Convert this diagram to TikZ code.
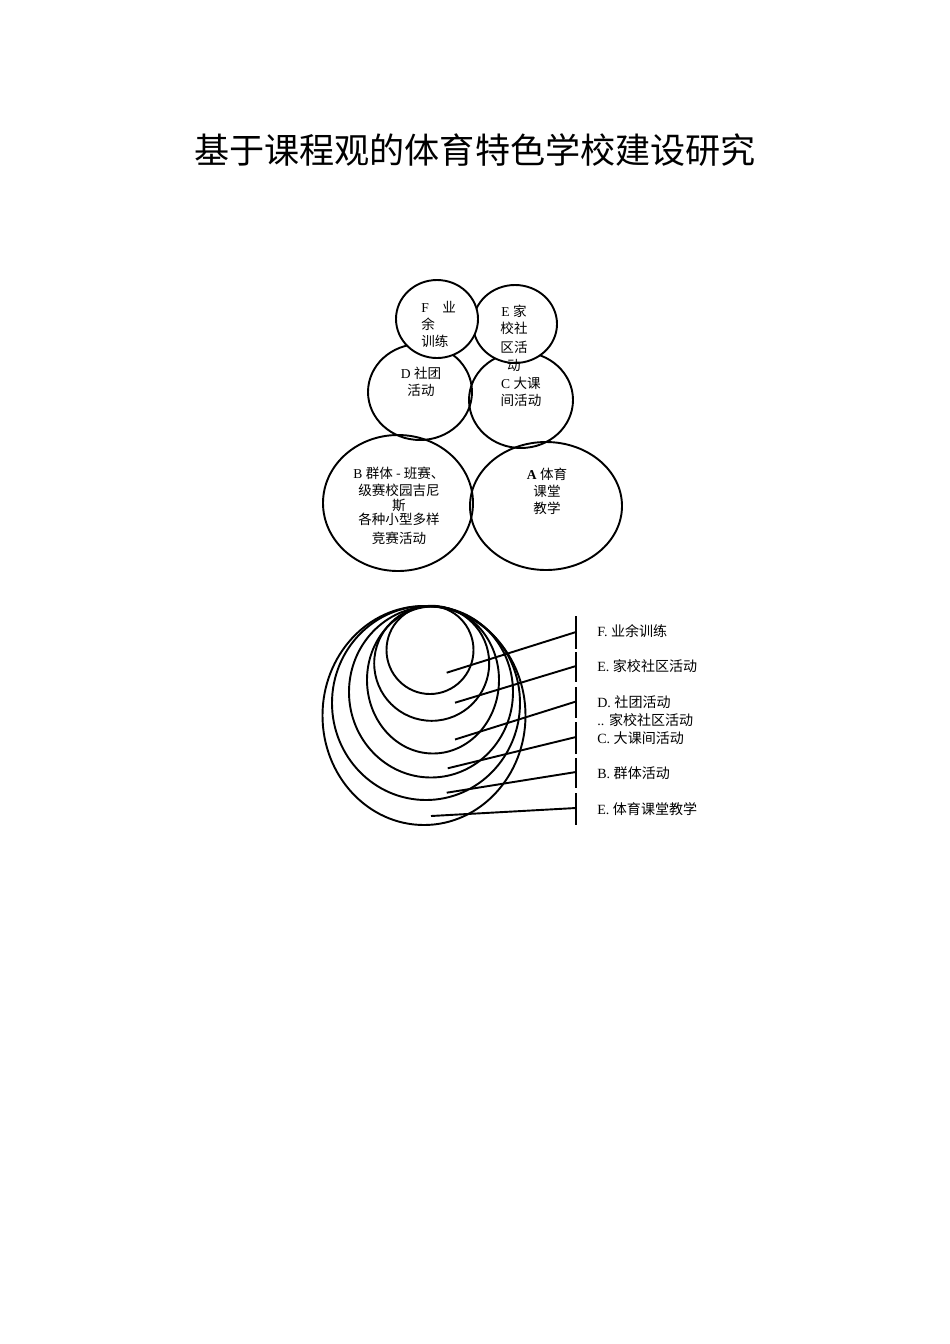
\documentclass[tikz,border=0pt]{standalone}
\usepackage{fontspec}
\setmainfont{Liberation Serif}
\newfontfamily\cjk{Noto Sans CJK SC}
\usetikzlibrary{shapes.geometric, positioning}
\newcommand{\px}{0.6266pt}
\newcommand{\zh}[1]{{\cjk #1}}

\begin{document}
\begin{tikzpicture}[x=0.6266pt, y=-0.6266pt,
	ring/.style={draw, ellipse, line width=1.2pt, inner sep=0pt},
	txt/.style={font=\fontsize{8.5}{10.6}\selectfont, align=center, inner sep=0pt},
	lbl/.style={font=\fontsize{8.8}{10.6}\selectfont, anchor=west, inner sep=0pt},
	lead/.style={line width=1.2pt}]

		\useasboundingbox (0,0) rectangle (950,1344);

		% title %
		\node[font=\cjk\fontsize{22}{26}\selectfont] (title) at (475,150) {基于课程观的体育特色学校建设研究};

		% circles - upper cluster %
		\node[ring, minimum width=152*\px, minimum height=128*\px] (A) at (546,506) {};
		\node[ring, minimum width=150*\px, minimum height=136*\px] (B) at (398,503) {};
		\node[ring, minimum width=104*\px, minimum height=96*\px] (C) at (521,400) {};
		\node[ring, minimum width=104*\px, minimum height=96*\px] (D) at (420,392) {};
		\node[ring, fill=white, minimum width=84*\px, minimum height=78*\px] (E) at (515,324) {};
		\node[ring, fill=white, minimum width=82*\px, minimum height=78*\px] (F) at (437,319) {};

		% texts %
		\node[txt, align=left, anchor=west] (Ftxt) at (421,324) {F\quad\zh{业}\\\zh{余}\\\zh{训练}};
		\node[txt] (Etxt) at (514,338) {E \zh{家}\\[0.2pt]\zh{校社}\\[1.2pt]\zh{区活}\\[0.6pt]\zh{动}};
		\node[txt] (Dtxt) at (421,381.5) {D \zh{社团}\\\zh{活动}};
		\node[txt] (Ctxt) at (521,391.5) {C \zh{大课}\\\zh{间活动}};
		\node[txt] (Btxt) at (399,505.5) {B \zh{群体 - 班赛、}\\\zh{级赛校园吉尼}\\[-1.2pt]\zh{斯}\\[-1.8pt]\zh{各种小型多样}\\[1.4pt]\zh{竞赛活动}};
		\node[txt] (Atxt) at (547,491.5) {\textbf{A} \zh{体育}\\\zh{课堂}\\\zh{教学}};

		% nested rings - lower figure %
		\node[ring, minimum width=203*\px, minimum height=219*\px] (ktj) at (424,715.5) {};
		\node[ring, minimum width=188*\px, minimum height=194*\px] (qth) at (426,703) {};
		\node[ring, minimum width=164*\px, minimum height=171*\px] (dkj) at (431,692) {};
		\node[ring, minimum width=132*\px, minimum height=147*\px] (sth) at (433,680) {};
		\node[ring, minimum width=115*\px, minimum height=115*\px] (jxs) at (431.7,663.3) {};
		\node[ring, minimum width=87*\px, minimum height=88*\px] (yyx) at (430,650) {};

		% leader ends %
		\coordinate (p1) at (446.7,672.7);
		\coordinate (p2) at (455,702.7);
		\coordinate (p3) at (455,739.5);
		\coordinate (p4) at (447.7,768.3);
		\coordinate (p5) at (446.7,792.7);
		\coordinate (p6) at (431,816);
		\coordinate (q1) at (576,632);
		\coordinate (q2) at (576,666);
		\coordinate (q3) at (576,701.5);
		\coordinate (q4) at (576,737);
		\coordinate (q5) at (576,772);
		\coordinate (q6) at (576,808);

		% bar pieces %
		\draw[lead] (576,616) -- (576,649);
		\draw[lead] (576,652) -- (576,682);
		\draw[lead] (576,687) -- (576,718);
		\draw[lead] (576,722) -- (576,754);
		\draw[lead] (576,758) -- (576,788);
		\draw[lead] (576,793) -- (576,825);

		% leaders %
		\draw[lead] (p1) -- (q1);
		\draw[lead] (p2) -- (q2);
		\draw[lead] (p3) -- (q3);
		\draw[lead] (p4) -- (q4);
		\draw[lead] (p5) -- (q5);
		\draw[lead] (p6) -- (q6);

		% labels %
		\node[lbl] (l1) at (597,631) {F. \zh{业余训练}};
		\node[lbl] (l2) at (597,666.5) {E. \zh{家校社区活动}};
		\node[lbl] (l3) at (597,702) {D. \zh{社团活动}};
		\node[lbl] (l3b) at (597,720) {.. \zh{家校社区活动}};
		\node[lbl] (l4) at (597,738) {C. \zh{大课间活动}};
		\node[lbl] (l5) at (597,773.5) {B. \zh{群体活动}};
		\node[lbl] (l6) at (597,809) {E. \zh{体育课堂教学}};
		\end{tikzpicture}
\end{document}
